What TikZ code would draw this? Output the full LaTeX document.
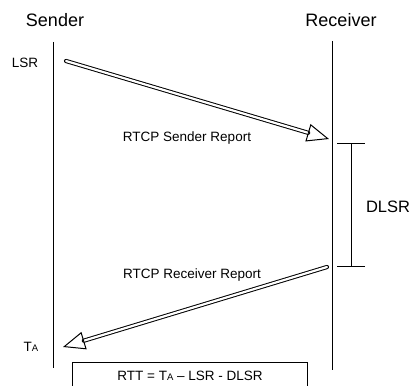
\documentclass[tikz,border=0pt]{standalone}
\usepackage{fontspec}
\setmainfont{Liberation Sans}
\usetikzlibrary{arrows.meta}
\tikzset{
  head/.style={font=\fontsize{18}{20}\selectfont},
  lbl/.style={font=\fontsize{13.5}{16}\selectfont, inner sep=1pt},
  life/.style={line width=1pt},
  msg/.style={double, double distance=2.2pt, line width=1pt, line cap=round,
    -{Triangle[open, length=22pt, width=18pt, line width=1pt]}},
  rttbox/.style={draw, line width=1pt, minimum width=235pt, minimum height=27pt,
    font=\fontsize{13.5}{16}\selectfont},
}
\newcommand{\ta}{T{\fontsize{9.5}{10}\selectfont A}}

\begin{document}
\begin{tikzpicture}[x=1pt, y=-1pt]
    \useasboundingbox (0,0) rectangle (411,385);
    \clip (0,0) rectangle (411,385);
    \node[head] (sender) at (55,20) {Sender};
    \node[head] (receiver) at (341,20) {Receiver};
    \coordinate (stop) at (53,42);
    \coordinate (sbot) at (53,368);
    \coordinate (rtop) at (332,41);
    \coordinate (rbot) at (332,370);
    \draw[life] (stop) -- (sbot);
    \draw[life] (rtop) -- (rbot);
    \node[lbl] (lsr) at (25,63) {LSR};
    \node[lbl] (ta) at (31,347) {\ta};
    \coordinate (sr start) at (66,61);
    \coordinate (sr end) at (329,139);
    \coordinate (rr start) at (327,267);
    \coordinate (rr end) at (63,347);
    \draw[msg] (sr start) -- (sr end);
    \draw[msg] (rr start) -- (rr end);
    \node[lbl] (srlabel) at (187,138) {RTCP Sender Report};
    \node[lbl] (rrlabel) at (192,275) {RTCP Receiver Report};
    \coordinate (dtop) at (351,143);
    \coordinate (dbot) at (351,267);
    \draw[life, {Bar[width=28pt]}-{Bar[width=28pt]}] (dtop) -- (dbot);
    \node[head, font=\fontsize{16.5}{18}\selectfont] (dlsr) at (388,207) {DLSR};
    \node[rttbox] (rtt) at (190,375.5) {RTT = \ta\ -- LSR - DLSR};
  \end{tikzpicture}
\end{document}
